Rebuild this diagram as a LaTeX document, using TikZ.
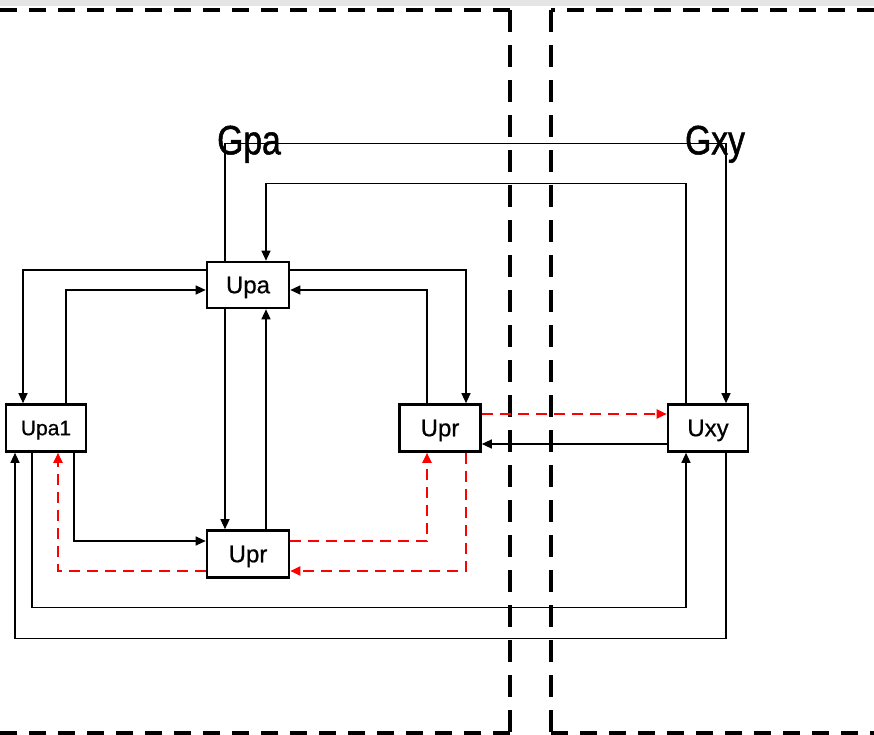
\documentclass[tikz,border=0pt]{standalone}
\usepackage{fontspec}
\setmainfont{Liberation Sans}
\newfontfamily\narrowfont[FakeStretch=0.82,FakeBold=1.2]{Liberation Sans}
\newfontfamily\boxfont[FakeBold=0.6]{Liberation Sans}
\usetikzlibrary{arrows.meta}

\tikzset{
	unit/.style={draw, line width=2.6pt, minimum width=82pt, minimum height=46pt, inner sep=0pt, text depth=0pt, font=\boxfont\fontsize{24}{24}\selectfont},
	group/.style={inner sep=0pt, text depth=0pt, font=\narrowfont\fontsize{41}{41}\selectfont},
	link/.style={line width=1.2pt, -{Triangle[length=10pt,width=9pt]}},
	redlink/.style={link, red, line width=2pt, dash pattern=on 11pt off 7pt},
	bound/.style={line width=3.6pt, dash pattern=on 17pt off 12pt},
}

\begin{document}
\begin{tikzpicture}[x=1pt,y=-1pt]
	\useasboundingbox (0,0) rectangle (874,735);
	\fill[gray!20] (0,0) rectangle (874,6);

	\draw[bound] (0,10) -- (510,10);
	\draw[bound, dash pattern=on 22pt off 13pt] (510,10) -- (510,733);
	\draw[bound] (510,733) -- (0,733);
	\draw[bound] (874,10) -- (551,10);
	\draw[bound, dash pattern=on 22pt off 13pt] (551,10) -- (551,733);
	\draw[bound] (551,733) -- (874,733);

	\node[group] (gpa) at (249,140) {Gpa};
	\node[group] (gxy) at (715,140) {Gxy};

	\node[unit] (upa) at (248,285) {Upa};
	\node[unit, minimum width=80pt, minimum height=47pt, font=\boxfont\fontsize{21}{21}\selectfont] (upaone) at (46,428) {Upa1};
	\node[unit, minimum height=47pt] (uprl) at (248,554) {Upr};
	\node[unit, minimum width=81pt, minimum height=47pt] (uprr) at (440,428) {Upr};
	\node[unit, minimum width=80pt, minimum height=47pt] (uxy) at (708,428) {Uxy};

	\draw[link] ([xshift=-23pt]upa.north) -- ++(0,-117) -| ([xshift=18pt]uxy.north);
	\draw[link] ([xshift=-22pt]uxy.north) -- ++(0,-220) -| ([xshift=18pt]upa.north);
	\draw[link] ([yshift=15pt]upa.west) -| ([xshift=-23pt]upaone.north);
	\draw[link] ([xshift=20pt]upaone.north) |- ([yshift=-5pt]upa.west);
	\draw[link] ([yshift=15pt]upa.east) -| ([xshift=26pt]uprr.north);
	\draw[link] ([xshift=-13pt]uprr.north) |- ([yshift=-5pt]upa.east);
	\draw[link] ([xshift=-23pt]upa.south) -- ([xshift=-23pt]uprl.north);
	\draw[link] ([xshift=18pt]uprl.north) -- ([xshift=18pt]upa.south);
	\draw[link] ([xshift=28pt]upaone.south) |- ([yshift=13pt]uprl.west);
	\draw[link] ([yshift=-16pt]uxy.west) -- ([yshift=-16pt]uprr.east);
	\draw[link] ([xshift=-14pt]upaone.south) -- ++(0,155) -| ([xshift=-22pt]uxy.south);
	\draw[link] ([xshift=18pt]uxy.south) -- ++(0,186) -| ([xshift=-31pt]upaone.south);

	\draw[redlink] ([yshift=-17pt]uprl.west) -| ([xshift=12pt]upaone.south);
	\draw[redlink] ([yshift=13pt]uprl.east) -| ([xshift=-13pt]uprr.south);
	\draw[redlink] ([xshift=26pt]uprr.south) |- ([yshift=-17pt]uprl.east);
	\draw[redlink] ([yshift=14pt]uprr.east) -- ([yshift=14pt]uxy.west);
\end{tikzpicture}
\end{document}
